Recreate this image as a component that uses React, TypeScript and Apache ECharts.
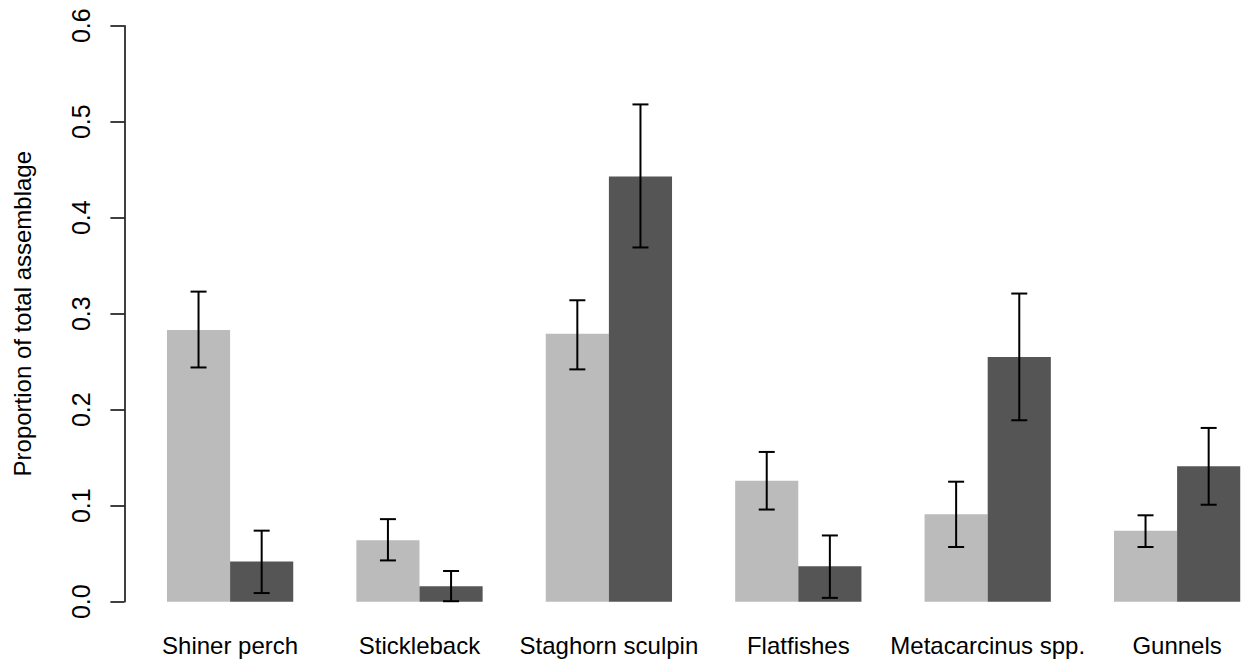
import React, { useEffect, useRef } from "react";
import * as echarts from "echarts";

const categories = [
  "Shiner perch",
  "Stickleback",
  "Staghorn sculpin",
  "Flatfishes",
  "Metacarcinus spp.",
  "Gunnels",
];

const lightValues = [0.283, 0.064, 0.279, 0.126, 0.091, 0.074];
const lightLow = [0.244, 0.043, 0.242, 0.096, 0.057, 0.057];
const lightHigh = [0.323, 0.086, 0.314, 0.156, 0.125, 0.09];

const darkValues = [0.042, 0.016, 0.443, 0.037, 0.255, 0.141];
const darkLow = [0.009, 0.0005, 0.369, 0.004, 0.189, 0.101];
const darkHigh = [0.074, 0.032, 0.518, 0.069, 0.321, 0.181];

const yTicks = [0, 0.1, 0.2, 0.3, 0.4, 0.5, 0.6];

const FONT = "'Liberation Sans', Arial, Helvetica, sans-serif";

export default function App() {
  const ref = useRef<HTMLDivElement>(null);

  useEffect(() => {
    if (!ref.current) return;
    const chart = echarts.init(ref.current, null, { renderer: "svg" });

    const errData = (lo: number[], hi: number[]) =>
      categories.map((_, i) => [i, lo[i], hi[i]]);

    const makeErr = (sign: number) => (params: any, api: any) => {
      const xi = api.value(0);
      const lo = api.coord([xi, api.value(1)]);
      const hi = api.coord([xi, api.value(2)]);
      const bw = api.size([1, 0])[0];
      const x = lo[0] + (sign * bw) / 6;
      const cap = 8;
      const style = { stroke: "#000", lineWidth: 2 };
      return {
        type: "group",
        children: [
          { type: "line", shape: { x1: x, y1: lo[1], x2: x, y2: hi[1] }, style },
          { type: "line", shape: { x1: x - cap, y1: lo[1], x2: x + cap, y2: lo[1] }, style },
          { type: "line", shape: { x1: x - cap, y1: hi[1], x2: x + cap, y2: hi[1] }, style },
        ],
      };
    };

    chart.setOption({
      animation: false,
      backgroundColor: "#ffffff",
      grid: { left: 135.4, top: 25.7, height: 576, width: 1136.4, containLabel: false },
      xAxis: {
        type: "category",
        data: categories,
        axisLine: { show: false },
        axisTick: { show: false },
        axisLabel: {
          color: "#000",
          fontSize: 24,
          fontFamily: FONT,
          margin: 32,
          interval: 0,
        },
      },
      yAxis: {
        type: "value",
        min: 0,
        max: 0.6,
        interval: 0.1,
        offset: 11,
        name: "Proportion of total assemblage",
        nameLocation: "middle",
        nameRotate: 90,
        nameGap: 90,
        nameTextStyle: { color: "#000", fontSize: 24, fontFamily: FONT },
        axisLine: { show: true, lineStyle: { color: "#000", width: 1.5 } },
        axisTick: { show: true, length: 14, lineStyle: { color: "#000", width: 1.5 } },
        splitLine: { show: false },
        axisLabel: {
          color: "#000",
          fontSize: 25,
          fontFamily: FONT,
          rotate: 90,
          margin: 31,
          formatter: (v: number) => {
            const t = yTicks.find((k) => Math.abs(k - v) < 1e-9);
            return (t !== undefined ? t : v).toFixed(1);
          },
        },
      },
      series: [
        {
          type: "bar",
          data: lightValues,
          barWidth: "33.3333%",
          barGap: "0%",
          itemStyle: { color: "#bbbbbb" },
        },
        {
          type: "bar",
          data: darkValues,
          barWidth: "33.3333%",
          barGap: "0%",
          itemStyle: { color: "#555555" },
        },
        {
          type: "custom",
          data: errData(lightLow, lightHigh),
          renderItem: makeErr(-1),
          z: 10,
        },
        {
          type: "custom",
          data: errData(darkLow, darkHigh),
          renderItem: makeErr(1),
          z: 10,
        },
      ],
    });

    return () => chart.dispose();
  }, []);

  return (
    <div
      style={{
        position: "fixed",
        left: 0,
        top: 0,
        width: 1242,
        height: 666,
        overflow: "hidden",
        background: "#fff",
      }}
    >
      <div ref={ref} style={{ width: 1300, height: 666 }} />
    </div>
  );
}
